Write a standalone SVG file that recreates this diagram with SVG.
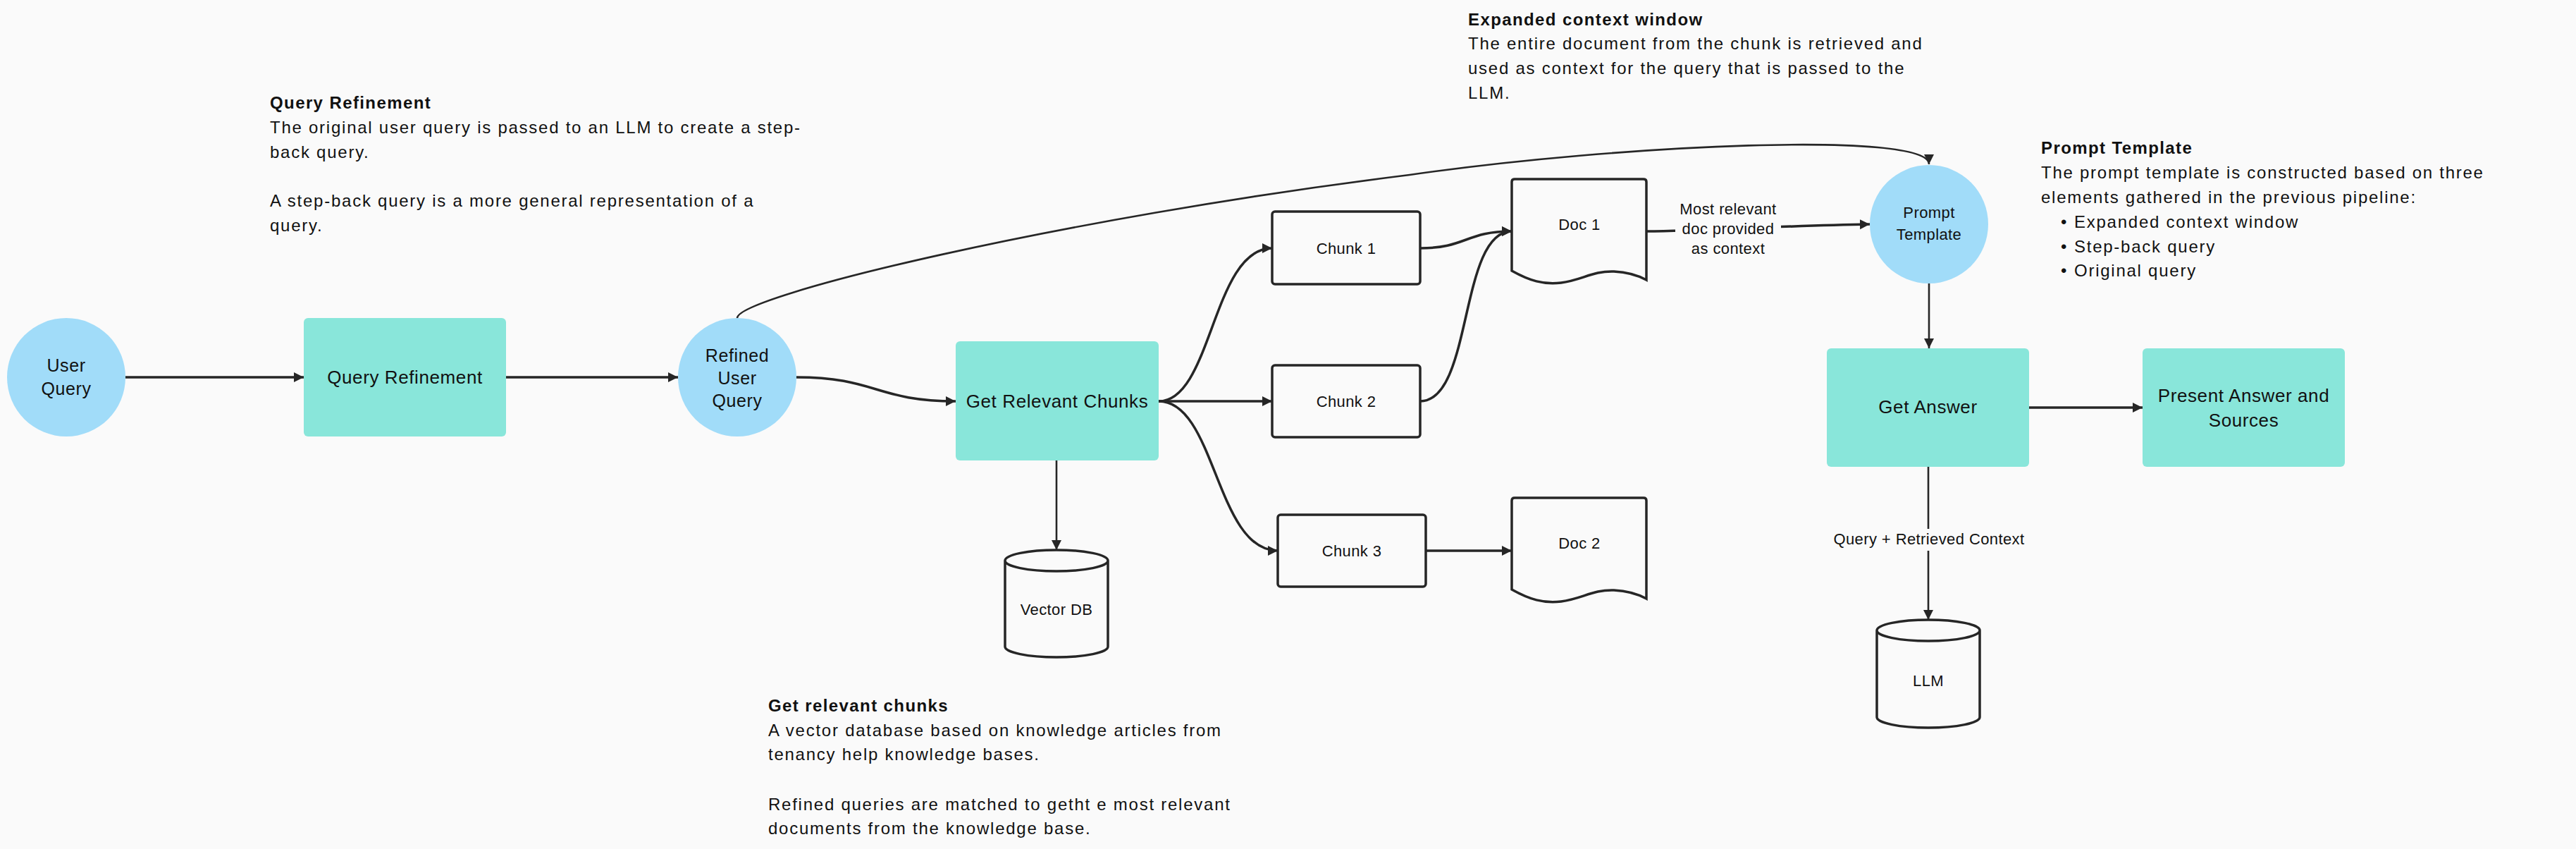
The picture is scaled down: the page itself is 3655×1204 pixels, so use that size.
<svg xmlns="http://www.w3.org/2000/svg" width="3655" height="1204" viewBox="0 0 3655 1204">
<defs>
<style>
text{font-family:"Liberation Sans",Arial,sans-serif;fill:#111;}
.body{font-size:24px;letter-spacing:1.75px;}
.title{font-size:24px;font-weight:bold;letter-spacing:1.4px;}
.nl{font-size:26px;letter-spacing:0.6px;text-anchor:middle;}
.cl{font-size:25px;letter-spacing:0.6px;text-anchor:middle;}
.sl{font-size:22px;letter-spacing:0.4px;text-anchor:middle;}
.circ{fill:#a1dcf9;}
.proc{fill:#89e6da;}
.box{fill:#fafafa;stroke:#262626;stroke-width:3.5;}
.conn path,.conn line{fill:none;stroke:#262626;}
.thick{stroke-width:3.5;}
.thin{stroke-width:2.6;}
</style>
<marker id="ah" viewBox="0 0 14 15" markerWidth="14" markerHeight="15" markerUnits="userSpaceOnUse" refX="14" refY="7.5" orient="auto">
<path d="M0,0.5 L14,7.5 L0,14.5 Z" fill="#262626"/>
</marker>
</defs>
<rect x="0" y="0" width="3655" height="1204" fill="#fafafa"/>

<g id="note-query-refinement">
<text class="title" x="383" y="154">Query Refinement</text>
<text class="body" x="383" y="189">The original user query is passed to an LLM to create a step-</text>
<text class="body" x="383" y="224">back query.</text>
<text class="body" x="383" y="293">A step-back query is a more general representation of a</text>
<text class="body" x="383" y="328">query.</text>
</g>
<g id="note-expanded-context">
<text class="title" x="2083" y="36">Expanded context window</text>
<text class="body" x="2083" y="70">The entire document from the chunk is retrieved and</text>
<text class="body" x="2083" y="105">used as context for the query that is passed to the</text>
<text class="body" x="2083" y="140">LLM.</text>
</g>
<g id="note-prompt-template">
<text class="title" x="2896" y="218">Prompt Template</text>
<text class="body" x="2896" y="253">The prompt template is constructed based on three</text>
<text class="body" x="2896" y="288">elements gathered in the previous pipeline:</text>
<text class="body" x="2924" y="323">•</text>
<text class="body" x="2943" y="323">Expanded context window</text>
<text class="body" x="2924" y="358">•</text>
<text class="body" x="2943" y="358">Step-back query</text>
<text class="body" x="2924" y="392">•</text>
<text class="body" x="2943" y="392">Original query</text>
</g>
<g id="note-relevant-chunks">
<text class="title" x="1090" y="1009">Get relevant chunks</text>
<text class="body" x="1090" y="1044">A vector database based on knowledge articles from</text>
<text class="body" x="1090" y="1078">tenancy help knowledge bases.</text>
<text class="body" x="1090" y="1149">Refined queries are matched to getht e most relevant</text>
<text class="body" x="1090" y="1183">documents from the knowledge base.</text>
</g>

<g class="conn" id="connectors">
<path class="thick" d="M178,535 L431,535" marker-end="url(#ah)"/>
<path class="thick" d="M718,535 L962,535" marker-end="url(#ah)"/>
<path class="thick" d="M1130,535 C1243,535 1243,569 1356,569" marker-end="url(#ah)"/>
<path class="thin" d="M1046,451 C1046,420 1500,310 2000,248 C2300,205 2737,185 2737,233" marker-end="url(#ah)"/>
<path class="thick" d="M1644,569 C1720,569 1720,352 1805,352" marker-end="url(#ah)"/>
<path class="thick" d="M1644,569 L1805,569" marker-end="url(#ah)"/>
<path class="thick" d="M1644,569 C1725,569 1725,781 1813,781" marker-end="url(#ah)"/>
<path class="thick" d="M2015,352 C2080,352 2080,328 2145,328" marker-end="url(#ah)"/>
<path class="thick" d="M2015,569 C2090,569 2070,328 2145,328" marker-end="url(#ah)"/>
<path class="thick" d="M2023,781 L2145,781" marker-end="url(#ah)"/>
<path class="thick" d="M2336,328 C2420,328 2520,320 2653,318" marker-end="url(#ah)"/>
<path class="thin" d="M1499,653 L1499,780" marker-end="url(#ah)"/>
<path class="thin" d="M2737,402 L2737,494" marker-end="url(#ah)"/>
<path class="thick" d="M2879,578 L3040,578" marker-end="url(#ah)"/>
<path class="thin" d="M2736,662 L2736,879" marker-end="url(#ah)"/>
<rect x="2377" y="282" width="150" height="86" fill="#fafafa"/>
<text class="sl" x="2452" y="304">Most relevant</text>
<text class="sl" x="2452" y="332">doc provided</text>
<text class="sl" x="2452" y="360">as context</text>
<rect x="2600" y="750" width="274" height="31" fill="#fafafa"/>
<text class="sl" x="2737" y="772">Query + Retrieved Context</text>
</g>

<g id="user-query">
<circle class="circ" cx="94" cy="535" r="84"/>
<text class="cl" x="94" y="527">User</text>
<text class="cl" x="94" y="560">Query</text>
</g>
<g id="query-refinement">
<rect class="proc" x="431" y="451" width="287" height="168" rx="6"/>
<text class="nl" x="574.5" y="544">Query Refinement</text>
</g>
<g id="refined-user-query">
<circle class="circ" cx="1046" cy="535" r="84"/>
<text class="cl" x="1046" y="513">Refined</text>
<text class="cl" x="1046" y="545">User</text>
<text class="cl" x="1046" y="577">Query</text>
</g>
<g id="get-relevant-chunks">
<rect class="proc" x="1356" y="484" width="288" height="169" rx="6"/>
<text class="nl" x="1500" y="578">Get Relevant Chunks</text>
</g>
<g id="vector-db">
<path class="box" d="M1426,795 L1426,917 A73,15 0 0 0 1572,917 L1572,795 A73,15 0 0 0 1426,795 A73,15 0 0 0 1572,795"/>
<text class="sl" x="1499" y="872">Vector DB</text>
</g>
<g id="chunk-1">
<rect class="box" x="1805" y="300" width="210" height="103" rx="4"/>
<text class="sl" x="1910" y="360">Chunk 1</text>
</g>
<g id="chunk-2">
<rect class="box" x="1805" y="518" width="210" height="102" rx="4"/>
<text class="sl" x="1910" y="577">Chunk 2</text>
</g>
<g id="chunk-3">
<rect class="box" x="1813" y="730" width="210" height="102" rx="4"/>
<text class="sl" x="1918" y="789">Chunk 3</text>
</g>
<g id="doc-1">
<path class="box" d="M2145,384 L2145,258 Q2145,254 2149,254 L2332,254 Q2336,254 2336,258 L2336,397 C2325,391 2310,386 2290,385 C2260,384 2245,397 2215,401 C2190,404 2170,398 2145,384 Z"/>
<text class="sl" x="2241" y="326">Doc 1</text>
</g>
<g id="doc-2">
<path class="box" d="M2145,836 L2145,710 Q2145,706 2149,706 L2332,706 Q2336,706 2336,710 L2336,849 C2325,843 2310,838 2290,837 C2260,836 2245,849 2215,853 C2190,856 2170,850 2145,836 Z"/>
<text class="sl" x="2241" y="778">Doc 2</text>
</g>
<g id="prompt-template">
<circle class="circ" cx="2737" cy="318" r="84"/>
<text class="sl" x="2737" y="309">Prompt</text>
<text class="sl" x="2737" y="340">Template</text>
</g>
<g id="get-answer">
<rect class="proc" x="2592" y="494" width="287" height="168" rx="6"/>
<text class="nl" x="2735.5" y="586">Get Answer</text>
</g>
<g id="present-answer">
<rect class="proc" x="3040" y="494" width="287" height="168" rx="6"/>
<text class="nl" x="3183.5" y="570">Present Answer and</text>
<text class="nl" x="3183.5" y="605">Sources</text>
</g>
<g id="llm">
<path class="box" d="M2663,894 L2663,1017 A73,15 0 0 0 2809,1017 L2809,894 A73,15 0 0 0 2663,894 A73,15 0 0 0 2809,894"/>
<text class="sl" x="2736" y="973">LLM</text>
</g>
</svg>
